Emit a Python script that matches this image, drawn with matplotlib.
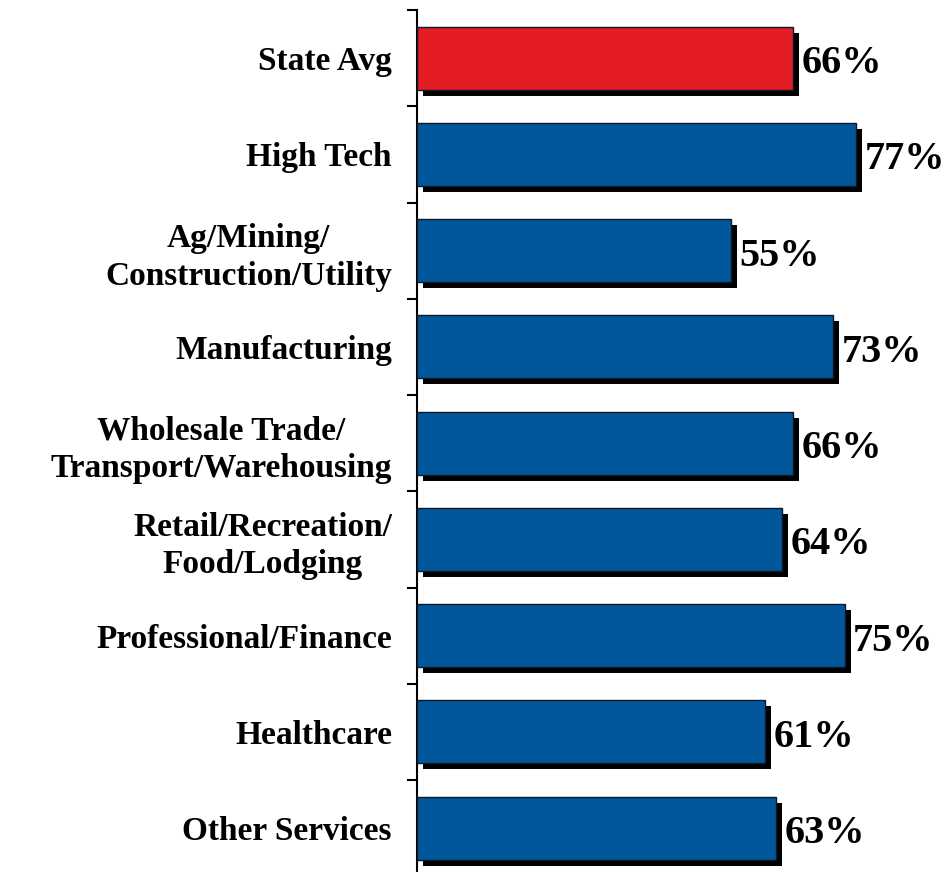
import matplotlib
matplotlib.use("Agg")
import matplotlib.pyplot as plt
import matplotlib.patheffects as pe
import numpy as np

categories = ["State Avg", "High Tech", "Ag/Mining/\nConstruction/Utility", "Manufacturing",
              "Wholesale Trade/\nTransport/Warehousing", "Retail/Recreation/\nFood/Lodging",
              "Professional/Finance", "Healthcare", "Other Services"]
values = [66, 77, 55, 73, 66, 64, 75, 61, 63]
colors = ["#E31B23"] + ["#02579A"] * 8

plt.rcParams['font.family'] = ['Liberation Serif', 'DejaVu Serif']

fig = plt.figure(figsize=(9.53, 8.72), dpi=100)
ax = fig.add_axes([417/953, -0.0049, 1 - 417/953, 0.9885 + 0.0049])

y = np.arange(len(categories))
bars = ax.barh(y, values, height=0.655, color=colors, edgecolor="#0a1a2a", linewidth=1.0, zorder=3)
for b in bars:
    b.set_path_effects([pe.SimplePatchShadow(offset=(4.3, -4.3), shadow_rgbFace='black', alpha=1.0),
                        pe.Normal()])

for yi, v in zip(y, values):
    ax.annotate(f"{v}%", xy=(v, yi), xytext=(6, -4), textcoords='offset points',
                ha='left', va='center', fontsize=29, fontweight='bold', zorder=4)

ax.set_xlim(0, 94)
ax.set_ylim(len(categories) - 0.5, -0.5)

for s in ["top", "right", "bottom"]:
    ax.spines[s].set_visible(False)
ax.spines["left"].set_linewidth(1.5)
ax.set_xticks([])

ax.set_yticks(y)
ax.set_yticklabels(categories, fontsize=24, fontweight='bold', linespacing=1.27)
for t in ax.get_yticklabels():
    t.set_multialignment('center')
ax.tick_params(axis='y', which='major', length=0, pad=18)
ax.set_yticks(np.arange(-0.5, len(categories) + 0.5, 1), minor=True)
ax.tick_params(axis='y', which='minor', length=7.2, width=1.5, direction='out')

fig.savefig("out.png", dpi=100)
